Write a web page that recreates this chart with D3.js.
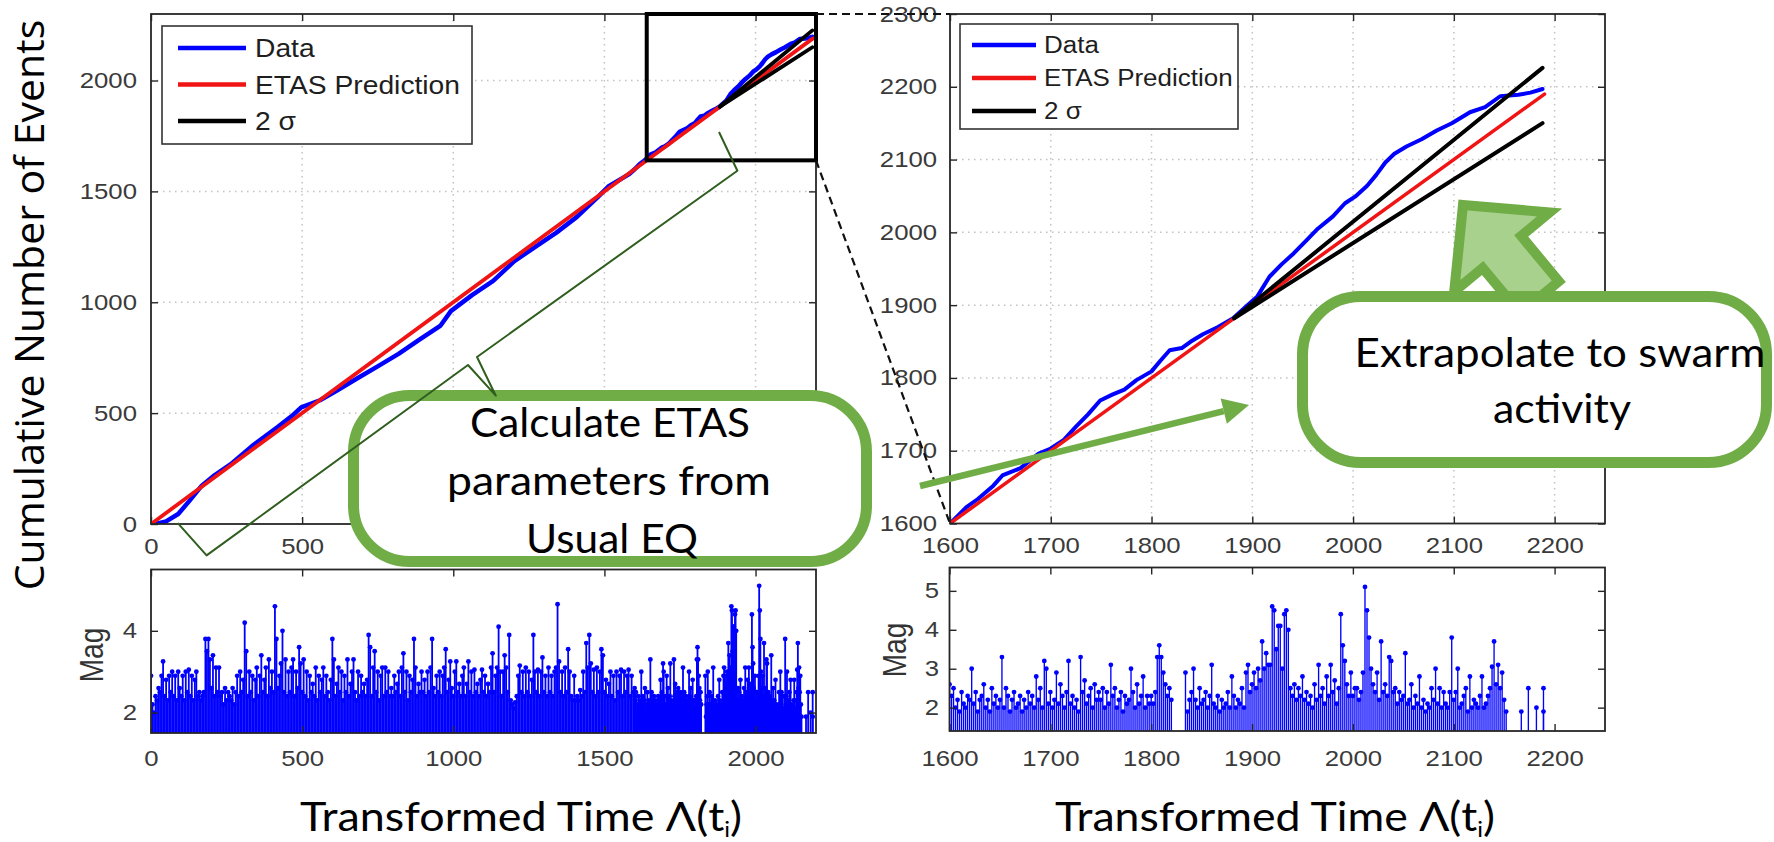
<!DOCTYPE html>
<html>
<head>
<meta charset="utf-8">
<script src="https://cdn.jsdelivr.net/npm/d3@7"></script>
<style>
  html, body { margin: 0; padding: 0; background: #ffffff; }
  svg { display: block; }
</style>
</head>
<body>
<svg id="chart" width="1774" height="842"></svg>
<script>
// ---------------- data ----------------
const cumTicksX = [0, 500, 1000, 1500, 2000];
const cumLabelledX = [0, 500];          // the rest sit under the fitting callout
const cumTicksY = [0, 500, 1000, 1500, 2000];
const zoomTicksX = [1600, 1700, 1800, 1900, 2000, 2100, 2200];
const zoomTicksY = [1600, 1700, 1800, 1900, 2000, 2100, 2200, 2300];
const magTicksLeft = [2, 4];
const magTicksRight = [2, 3, 4, 5];

// observed cumulative count vs transformed time [t, N]
const dataCurve = [
  [15,0],[50,12],[90,45],[125,101],[168,173],[211,221],[264,270],[333,350],[420,438],[472,494],
  [497,526],[559,558],[611,598],[680,655],[750,711],[819,767],[888,831],[958,895],[992,960],[1062,1032],
  [1132,1096],[1201,1184],[1270,1249],[1340,1313],[1409,1385],[1478,1474],[1513,1522],[1582,1578],
  [1600,1600],[1616,1622],[1628,1634],[1643,1652],[1652,1666],[1670,1676],[1688,1696],[1700,1703],
  [1713,1715],[1725,1733],[1737,1750],[1749,1769],[1761,1777],[1773,1784],[1785,1797],[1800,1809],
  [1809,1824],[1818,1838],[1830,1841],[1839,1850],[1851,1860],[1866,1870],[1881,1882],[1893,1897],
  [1905,1912],[1917,1939],[1929,1956],[1941,1971],[1953,1988],[1965,2005],[1980,2022],[1992,2040],
  [2002,2049],[2014,2064],[2023,2079],[2032,2096],[2041,2108],[2053,2118],[2068,2128],[2083,2140],
  [2098,2150],[2116,2165],[2131,2172],[2146,2187],[2164,2189],[2176,2192],[2188,2197]
];
// ETAS expected count (N = Λ)
const etasPrediction = [[0,0],[2190,2190]];
// 2σ envelope of the forecast, from the end of the fitting window
const sigmaUpper = [[1882,1882],[2188,2226]];
const sigmaLower = [[1882,1882],[2188,2150]];
// zoom window shown in the right-hand panel
const zoomWindowT = [1640, 2200];
const zoomWindowN = [1640, 2300];

// magnitudes, one event every 5 time units from t = 0 to 1595
const magEarlyStart = 0, magEarlyStep = 5;
const magEarly = [
  2.9,2.2,2.0,2.4,2.3,2.6,2.5,2.9,3.25,2.4,2.8,2.3,2.9,2.5,3.0,2.4,2.9,2.3,3.0,2.6,
  2.4,2.9,2.3,3.0,2.5,3.05,2.4,2.9,2.3,2.8,3.0,2.4,2.5,2.3,2.4,2.5,3.8,3.5,3.8,3.3,
  2.6,3.4,2.4,3.1,2.5,3.1,2.4,2.5,2.2,2.6,2.3,2.5,2.4,2.3,2.6,2.2,2.5,2.9,2.4,3.0,
  2.5,2.8,4.2,3.5,2.4,3.0,2.5,2.9,2.3,2.8,3.1,2.4,2.9,3.4,2.5,2.8,3.1,2.4,3.3,2.6,
  3.0,2.5,4.6,3.8,2.6,2.9,3.2,4.0,2.5,3.3,2.4,3.0,2.5,3.1,3.3,2.4,3.0,2.6,3.6,3.2,
  2.5,3.3,2.4,3.0,2.3,2.9,2.5,2.7,2.4,3.1,2.3,2.9,2.5,2.8,3.1,2.4,2.9,2.5,2.3,2.8,
  3.8,3.3,2.4,2.7,3.1,2.5,3.0,2.3,2.9,2.5,3.3,2.4,2.7,3.0,3.3,2.5,2.3,3.0,2.4,2.9,
  2.5,2.7,2.4,2.8,3.9,3.6,2.4,3.1,3.5,2.5,3.0,2.3,2.9,3.1,2.4,3.1,2.5,3.0,2.4,2.6,
  2.4,2.9,2.5,2.7,3.0,2.4,3.1,3.45,2.5,3.0,2.3,2.9,2.5,2.8,3.8,3.1,2.4,2.7,2.5,3.0,
  2.5,2.8,2.4,3.0,2.5,3.1,3.8,2.6,2.4,2.9,2.5,3.0,2.4,2.9,3.1,3.55,2.5,2.8,3.25,2.6,
  2.4,3.0,3.25,2.5,2.7,2.4,2.9,3.1,2.4,2.7,3.25,2.5,3.0,2.4,3.05,2.5,2.7,2.4,2.8,3.05,
  2.5,2.9,2.4,2.7,2.5,3.1,3.45,2.5,2.9,3.1,4.1,3.0,2.4,3.0,3.4,3.1,2.5,3.9,2.3,2.2,
  2.1,2.25,2.4,2.9,3.15,2.5,3.0,2.4,3.1,2.5,3.0,2.4,2.8,3.9,3.0,2.5,3.05,2.4,3.0,3.35,
  2.5,2.9,2.4,3.1,2.5,2.9,2.4,3.0,3.1,4.65,3.25,2.5,3.0,2.4,3.1,2.5,3.55,3.0,2.4,2.3,
  2.9,2.3,2.4,2.3,2.55,2.4,3.0,2.5,3.7,3.1,3.9,3.2,2.5,3.05,2.4,3.1,2.5,3.0,3.55,3.4,
  2.5,2.8,2.4,2.7,3.0,2.4,2.9,2.3,3.0,2.5,2.9,3.05,2.4,3.0,2.5,2.9,3.05,2.4,2.9,2.5
];

// magnitudes, one event every 2 time units from t = 1600 to 2152 (null = no event)
const magLateStart = 1600, magLateStep = 2;
const magLate = [
  2.6,2.3,2.5,2.0,2.2,1.9,2.4,2.1,2.0,2.3,2.2,3.0,2.1,2.4,1.9,2.2,2.3,2.6,2.0,2.2,1.9,2.5,2.1,2.3,2.0,
  2.2,3.3,2.0,2.5,2.3,1.9,2.2,2.4,2.0,2.1,2.3,1.9,2.2,2.0,2.4,2.1,2.3,2.0,2.8,2.2,2.5,2.0,3.2,3.0,2.1,
  2.4,2.0,2.2,2.9,2.1,2.6,2.3,2.0,2.4,3.2,2.1,2.3,2.0,2.2,1.9,3.3,2.4,2.7,2.1,2.3,2.5,2.0,2.6,2.2,2.4,
  2.2,2.5,2.0,2.4,2.1,3.1,2.3,2.5,2.0,2.2,2.4,1.9,2.3,2.1,2.2,3.0,2.4,2.0,2.6,2.1,2.3,2.8,2.0,2.3,2.1,
  2.3,2.1,2.4,3.3,3.6,3.3,2.9,2.6,2.3,2.5,2.2,null,null,null,null,null,null,2.9,1.9,2.2,2.4,3.0,2.2,2.0,2.5,
  2.1,2.2,2.4,2.0,2.3,3.1,2.1,2.0,2.3,1.9,2.2,2.0,2.1,2.4,2.0,2.8,2.3,2.0,2.2,2.1,2.5,2.0,2.9,3.1,2.4,
  2.6,2.9,2.5,3.0,2.7,3.7,3.0,3.4,3.1,3.1,4.6,4.5,3.5,4.1,4.1,3.0,4.4,4.5,4.0,2.5,2.3,2.6,2.2,2.5,2.3,
  2.8,2.2,2.4,2.1,2.3,2.0,2.6,2.2,3.1,2.3,2.5,2.1,2.8,2.3,3.1,2.4,2.7,2.1,2.5,4.4,3.6,3.2,2.6,2.3,2.9,
  2.3,2.5,2.5,2.2,2.4,2.9,5.1,4.5,3.8,3.0,2.6,2.4,2.9,2.2,3.7,2.4,2.6,2.3,3.3,3.2,2.4,2.5,2.1,2.4,2.2,
  2.3,3.4,2.1,2.2,2.6,2.0,2.3,2.1,2.8,2.0,2.2,1.9,2.1,2.0,2.5,2.2,3.0,2.1,2.5,2.0,2.4,2.1,2.0,2.4,3.8,
  2.2,2.4,3.0,2.0,2.1,2.3,2.5,1.9,2.8,2.0,2.2,2.1,2.0,2.3,2.8,2.0,2.1,2.3,2.5,3.05,3.7,2.6,3.1,2.5,2.9,
  2.2,1.9
];
// isolated events after the main sequence [t, magnitude]
const magTail = [[2167,1.9],[2174,2.5],[2182,2.0],[2189,2.5],[2189,1.9]];

// ---------------- setup ----------------
const BLUE = "#0000ff", RED = "#f01414", GREEN = "#70ad47", GREEN_FILL = "#a9d18e";
const TICK_FONT = "'Liberation Sans', Arial, sans-serif";
const SLIDE_FONT = "Lato, 'Open Sans', sans-serif";
const STRETCH = 1.17;

const svg = d3.select("#chart");
const defs = svg.append("defs");

const events = [];
magEarly.forEach((m, i) => { if (m != null) events.push({ t: magEarlyStart + i * magEarlyStep, m }); });
magLate.forEach((m, i) => { if (m != null) events.push({ t: magLateStart + i * magLateStep, m }); });
magTail.forEach(([t, m]) => events.push({ t, m }));

const xCum = d3.scaleLinear().domain([0, 2200]).range([151, 816]);
const yCum = d3.scaleLinear().domain([0, 2300]).range([524, 14]);
const xZoom = d3.scaleLinear().domain([1600, 2250]).range([950, 1605]);
const yZoom = d3.scaleLinear().domain([1600, 2300]).range([523.5, 14]);
const xMagL = d3.scaleLinear().domain([0, 2200]).range([151, 816]);
const yMagL = d3.scaleLinear().domain([1.5, 5.5]).range([733, 569.5]);
const xMagR = d3.scaleLinear().domain([1600, 2250]).range([949.5, 1605]);
const yMagR = d3.scaleLinear().domain([1.4, 5.6]).range([731, 567.5]);

const fmt = d3.format("d");

function clipFor(id, x, y) {
  const [x0, x1] = x.range(), [yb, yt] = y.range();
  defs.append("clipPath").attr("id", id).append("rect")
    .attr("x", x0).attr("y", yt).attr("width", x1 - x0).attr("height", yb - yt);
  return `url(#${id})`;
}

// axes box with inward ticks on all four sides, MATLAB style
function drawAxes(g, x, y, cfg) {
  const [x0, x1] = x.range(), [yb, yt] = y.range();
  if (cfg.grid) {
    const gg = g.append("g").attr("stroke", "#c2c2c2").attr("stroke-width", 1.5)
      .attr("stroke-dasharray", "1.5,4.5");
    gg.selectAll("line.gx").data(cfg.xTicks.filter(d => x(d) > x0 + 1 && x(d) < x1 - 1)).join("line")
      .attr("x1", d => x(d)).attr("x2", d => x(d)).attr("y1", yt).attr("y2", yb);
    gg.selectAll("line.gy").data(cfg.yTicks.filter(d => y(d) < yb - 1 && y(d) > yt + 1)).join("line")
      .attr("x1", x0).attr("x2", x1).attr("y1", d => y(d)).attr("y2", d => y(d));
  }
  const style = sel => {
    sel.select(".domain").remove();
    sel.selectAll(".tick line").attr("stroke", "#262626").attr("stroke-width", 1.4);
    sel.attr("font-family", TICK_FONT).attr("font-size", 22);
    sel.selectAll(".tick text").attr("fill", "#3a3a3a").attr("transform", `scale(${STRETCH},1)`);
    sel.selectAll(".tick text").filter(function () { return this.textContent === ""; }).remove();
  };
  const none = () => "";
  const labelled = cfg.xLabelled || cfg.xTicks;
  g.append("g").attr("transform", `translate(0,${yb})`)
    .call(d3.axisBottom(x).tickValues(cfg.xTicks).tickSize(-7).tickSizeOuter(0)
      .tickPadding(cfg.padX).tickFormat(d => labelled.includes(d) ? fmt(d) : "")).call(style);
  g.append("g").attr("transform", `translate(0,${yt})`)
    .call(d3.axisTop(x).tickValues(cfg.xTicks).tickSize(-7).tickSizeOuter(0).tickFormat(none)).call(style);
  g.append("g").attr("transform", `translate(${x0},0)`)
    .call(d3.axisLeft(y).tickValues(cfg.yTicks).tickSize(-7).tickSizeOuter(0)
      .tickPadding(cfg.padY).tickFormat(fmt)).call(style);
  g.append("g").attr("transform", `translate(${x1},0)`)
    .call(d3.axisRight(y).tickValues(cfg.yTicks).tickSize(-7).tickSizeOuter(0).tickFormat(none)).call(style);
}

function drawFrame(g, x, y) {
  const [x0, x1] = x.range(), [yb, yt] = y.range();
  g.append("rect").attr("x", x0).attr("y", yt).attr("width", x1 - x0).attr("height", yb - yt)
    .attr("fill", "none").attr("stroke", "#262626").attr("stroke-width", 1.8);
}

function drawCurves(g, x, y, clip, w) {
  const line = d3.line().x(d => x(d[0])).y(d => y(d[1]));
  const c = g.append("g").attr("clip-path", clip).attr("fill", "none")
    .attr("stroke-linejoin", "round").attr("stroke-linecap", "round");
  c.append("path").datum(dataCurve).attr("d", line).attr("stroke", BLUE).attr("stroke-width", w.blue);
  c.append("path").datum(etasPrediction).attr("d", line).attr("stroke", RED).attr("stroke-width", w.red);
  c.append("path").datum(sigmaUpper).attr("d", line).attr("stroke", "#000").attr("stroke-width", w.black);
  c.append("path").datum(sigmaLower).attr("d", line).attr("stroke", "#000").attr("stroke-width", w.black);
}

function drawLegend(g, box, rows, font) {
  g.append("rect").attr("x", box.x).attr("y", box.y).attr("width", box.w).attr("height", box.h)
    .attr("fill", "#fff").attr("stroke", "#333").attr("stroke-width", 1.6);
  rows.forEach((r, i) => {
    const cy = box.y + box.row0 + i * box.step;
    g.append("line").attr("x1", box.x + box.l0).attr("x2", box.x + box.l1)
      .attr("y1", cy).attr("y2", cy).attr("stroke", r.color).attr("stroke-width", 4.5);
    g.append("text").attr("transform", `translate(${box.x + box.tx},${cy}) scale(1.13,1)`)
      .attr("dy", "0.36em").attr("font-family", TICK_FONT).attr("font-size", font)
      .attr("fill", "#1e1e1e").text(r.label);
  });
}

function drawStems(g, evs, x, y, clip, width) {
  const base = y.range()[0];
  const s = g.append("g").attr("clip-path", clip);
  s.append("g").attr("stroke", BLUE).attr("stroke-width", width)
    .selectAll("line").data(evs).join("line")
    .attr("x1", d => x(d.t)).attr("x2", d => x(d.t)).attr("y1", base).attr("y2", d => y(d.m));
  s.append("g").attr("fill", BLUE)
    .selectAll("circle").data(evs).join("circle")
    .attr("cx", d => x(d.t)).attr("cy", d => y(d.m)).attr("r", 2.4);
}

function magLabel(g, x, y) {
  g.append("text").attr("transform", `translate(${x},${y}) scale(${STRETCH},1) rotate(-90)`)
    .attr("text-anchor", "middle").attr("dy", "0.35em")
    .attr("font-family", TICK_FONT).attr("font-size", 28).attr("fill", "#333").text("Mag");
}

const legendRows = [
  { label: "Data", color: BLUE },
  { label: "ETAS Prediction", color: RED },
  { label: "2 \u03c3", color: "#000" }
];

// ---------- cumulative count, full range ----------
const gCum = svg.append("g");
drawAxes(gCum, xCum, yCum, { xTicks: cumTicksX, xLabelled: cumLabelledX, yTicks: cumTicksY, grid: true, padX: 14, padY: 12 });
drawCurves(gCum, xCum, yCum, clipFor("clipCum", xCum, yCum), { blue: 4.5, red: 3.8, black: 3.8 });
drawFrame(gCum, xCum, yCum);
gCum.append("rect")
  .attr("x", xCum(zoomWindowT[0])).attr("y", yCum(zoomWindowN[1]))
  .attr("width", xCum(zoomWindowT[1]) - xCum(zoomWindowT[0]))
  .attr("height", yCum(zoomWindowN[0]) - yCum(zoomWindowN[1]))
  .attr("fill", "none").attr("stroke", "#000").attr("stroke-width", 4);
drawLegend(gCum, { x: 162, y: 26, w: 310, h: 118, row0: 22, step: 36.5, l0: 16, l1: 84, tx: 93 }, legendRows, 25);

// ---------- cumulative count, zoomed window ----------
const gZoom = svg.append("g");
drawAxes(gZoom, xZoom, yZoom, { xTicks: zoomTicksX, yTicks: zoomTicksY, grid: true, padX: 14, padY: 11 });
drawCurves(gZoom, xZoom, yZoom, clipFor("clipZoom", xZoom, yZoom), { blue: 4, red: 3.5, black: 4 });
drawFrame(gZoom, xZoom, yZoom);
drawLegend(gZoom, { x: 960, y: 24, w: 278, h: 105, row0: 21, step: 33, l0: 12, l1: 76, tx: 84 }, legendRows, 23);

// ---------- magnitudes ----------
const gMagL = svg.append("g");
drawStems(gMagL, events, xMagL, yMagL, clipFor("clipMagL", xMagL, yMagL), 1.8);
drawAxes(gMagL, xMagL, yMagL, { xTicks: cumTicksX, yTicks: magTicksLeft, grid: false, padX: 17, padY: 12 });
drawFrame(gMagL, xMagL, yMagL);
magLabel(gMagL, 92, 655);

const gMagR = svg.append("g");
drawStems(gMagR, events.filter(d => d.t >= 1600), xMagR, yMagR, clipFor("clipMagR", xMagR, yMagR), 1.35);
drawAxes(gMagR, xMagR, yMagR, { xTicks: zoomTicksX, yTicks: magTicksRight, grid: false, padX: 19, padY: 9 });
drawFrame(gMagR, xMagR, yMagR);
magLabel(gMagR, 895, 650);

// ---------- connectors from the zoom window to the right panel ----------
const conn = svg.append("g").attr("stroke", "#111").attr("stroke-width", 2.2)
  .attr("stroke-dasharray", "8,5").attr("fill", "none");
conn.append("line")
  .attr("x1", xCum(zoomWindowT[1])).attr("y1", yCum(zoomWindowN[1]))
  .attr("x2", xZoom.range()[0]).attr("y2", yZoom.range()[1]);
conn.append("line")
  .attr("x1", xCum(zoomWindowT[1])).attr("y1", yCum(zoomWindowN[0]))
  .attr("x2", xZoom.range()[0]).attr("y2", yZoom.range()[0]);

// ---------- axis titles ----------
const ttl = svg.append("g");
ttl.append("text").attr("transform", "translate(44,305) rotate(-90)")
  .attr("text-anchor", "middle").attr("font-family", "'Open Sans', sans-serif")
  .attr("font-size", 41).attr("fill", "#000").text("Cumulative Number of Events");

function fitted(g, cx, baseline, width, build) {
  const t = g.append("text").attr("text-anchor", "middle").attr("font-family", SLIDE_FONT)
    .attr("font-size", 41).attr("fill", "#000");
  build(t);
  const w = t.node().getComputedTextLength();
  t.attr("transform", `translate(${cx},${baseline}) scale(${width / w},1)`);
  return t;
}
function timeTitle(t) {
  t.append("tspan").text("Transformed Time \u039b(t");
  t.append("tspan").attr("font-size", 22).attr("dy", 6).text("i");
  t.append("tspan").attr("dy", -6).text(")");
}
fitted(ttl, 521, 831, 442, timeTitle);
fitted(ttl, 1275, 831, 440, timeTitle);

// ---------- callouts ----------
const notes = svg.append("g");

// block arrow pointing at the forecast envelope
notes.append("polygon")
  .attr("points", "1463,205 1549.6,212.4 1521.2,236 1558.8,281.4 1520.3,313.3 1482.7,268 1454.2,291.6")
  .attr("fill", GREEN_FILL).attr("stroke", GREEN).attr("stroke-width", 10).attr("stroke-linejoin", "miter");

// rounded callout boxes
notes.append("rect").attr("x", 353.5).attr("y", 395.5).attr("width", 513).attr("height", 166).attr("rx", 56)
  .attr("fill", "#fff").attr("stroke", GREEN).attr("stroke-width", 11);
notes.append("rect").attr("x", 1302.5).attr("y", 296.5).attr("width", 464).attr("height", 166).attr("rx", 58)
  .attr("fill", "#fff").attr("stroke", GREEN).attr("stroke-width", 11);

// brace spanning the fitting period
notes.append("path")
  .attr("d", "M177.8,523.2 L206.6,555.4 L468,365 L495.8,395.7 L477,357 L737.4,170.7 L719,132")
  .attr("fill", "none").attr("stroke", "#2f5e1e").attr("stroke-width", 2).attr("stroke-linejoin", "round");

// arrow from the fitting callout into the zoomed panel
const a0 = [920, 486], a1 = [1249, 405];
const ang = Math.atan2(a1[1] - a0[1], a1[0] - a0[0]);
const headLen = 26, headHalf = 13;
const bx = a1[0] - headLen * Math.cos(ang), by = a1[1] - headLen * Math.sin(ang);
notes.append("line").attr("x1", a0[0]).attr("y1", a0[1]).attr("x2", bx).attr("y2", by)
  .attr("stroke", GREEN).attr("stroke-width", 6.5);
notes.append("polygon")
  .attr("points", [
    a1,
    [bx + headHalf * Math.sin(ang), by - headHalf * Math.cos(ang)],
    [bx - headHalf * Math.sin(ang), by + headHalf * Math.cos(ang)]
  ].map(p => p.join(",")).join(" "))
  .attr("fill", GREEN);

// callout texts
fitted(notes, 610, 437, 280, t => t.text("Calculate ETAS"));
fitted(notes, 609, 495, 324, t => t.text("parameters from"));
fitted(notes, 612, 553, 172, t => t.text("Usual EQ"));
fitted(notes, 1560, 367, 411, t => t.text("Extrapolate to swarm"));
fitted(notes, 1562, 423, 138, t => t.text("activity"));
</script>
</body>
</html>
